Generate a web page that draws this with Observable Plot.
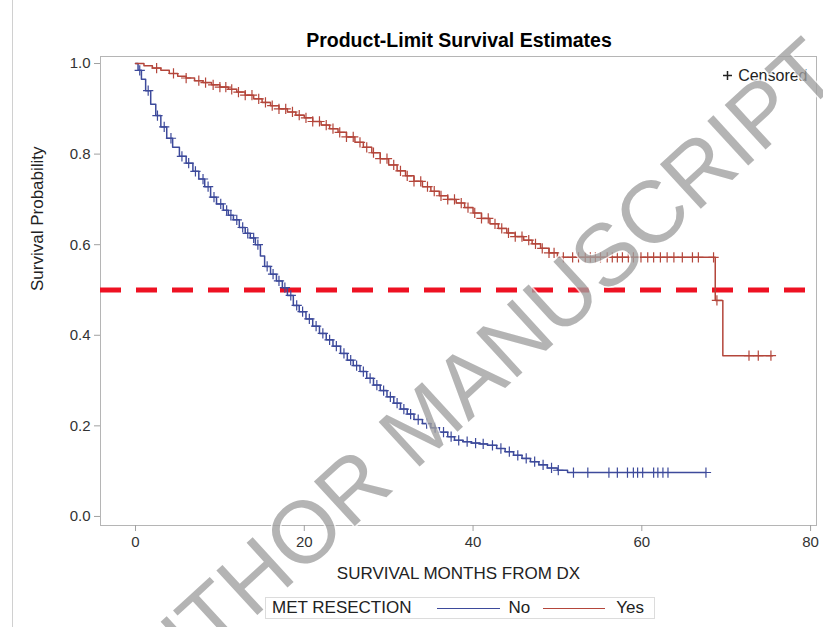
<!DOCTYPE html>
<html><head><meta charset="utf-8">
<script src="https://cdn.jsdelivr.net/npm/d3@7"></script>
<script src="https://cdn.jsdelivr.net/npm/@observablehq/plot@0.6"></script>
<style>
body{margin:0;background:#fff;font-family:"Liberation Sans",Arial,sans-serif;}
#page{position:relative;width:823px;height:627px;overflow:hidden;background:#fff;}
#title{height:48px;box-sizing:border-box;padding-top:30px;padding-left:95px;text-align:center;font-weight:bold;font-size:19.5px;line-height:20px;color:#000;}
#edge{position:absolute;left:12px;top:0;width:1px;height:627px;background:#d0d0d0;}
#legend{position:absolute;left:265px;top:597px;height:22px;box-sizing:border-box;border:1px solid #dcdcdc;display:flex;align-items:center;font-size:17px;color:#222;padding:0 10px 0 6px;}
#legend .sw{display:inline-block;height:0;border-top:1.5px solid;}
#wm{position:absolute;left:0;top:0;pointer-events:none;}
</style>
</head><body>
<div id="page">
<div id="edge"></div>
<div id="title"></div>
<div id="chart"></div>
<div id="legend"></div>
<svg id="wm" width="823" height="627"></svg>
</div>
<script>
// ---- data ----
const titleText = "Product-Limit Survival Estimates";
const xLabel = "SURVIVAL MONTHS FROM DX";
const yLabel = "Survival Probability";
const legendTitle = "MET RESECTION";
const groups = ["No", "Yes"];
const groupColors = ["#3d4a9b", "#b4463b"];
const xTicks = [0, 20, 40, 60, 80];
const yTicks = [0, 0.2, 0.4, 0.6, 0.8, 1.0];
const refLine = 0.5;
const watermark = "AUTHOR MANUSCRIPT";

// Group "No" (blue) Kaplan-Meier steps
const noTimes = [0,0.3,0.7,1.2,1.8,2.4,3.0,3.7,4.4,5.2,6.0,6.8,7.5,8.2,8.9,9.6,10.4,11.0,11.6,12.3,13.0,13.6,14.2,14.8,15.3,16.0,16.7,17.4,18.0,18.7,19.4,20.2,21.0,21.8,22.6,23.4,24.3,25.1,25.8,26.6,27.4,28.2,29.0,29.8,30.6,31.4,32.2,33.0,34.0,35.0,36.0,37.0,37.8,38.8,39.8,40.8,41.7,42.8,43.8,44.8,45.8,46.8,47.8,48.8,50.0,51.2,67.6];
const noSurv  = [1.000,0.985,0.965,0.940,0.910,0.885,0.860,0.835,0.815,0.795,0.780,0.762,0.745,0.728,0.705,0.690,0.676,0.665,0.655,0.638,0.625,0.615,0.600,0.575,0.552,0.535,0.520,0.505,0.488,0.466,0.452,0.436,0.420,0.404,0.390,0.376,0.360,0.345,0.333,0.320,0.305,0.290,0.278,0.264,0.250,0.237,0.226,0.214,0.205,0.196,0.186,0.176,0.168,0.165,0.162,0.160,0.157,0.150,0.143,0.135,0.128,0.121,0.114,0.107,0.102,0.097,0.097];
const noCensored = [0.5,1.5,2.6,3.4,4.2,5.5,6.3,7.1,8.0,8.6,9.3,10.1,10.8,11.3,12.0,12.7,13.3,14.0,14.5,15.6,16.3,17.0,17.7,18.4,19.1,19.8,20.6,21.4,22.2,23.0,23.8,24.7,25.5,26.2,27.0,27.8,28.6,29.4,30.2,31.0,31.8,32.6,33.5,34.5,35.5,36.5,37.4,38.3,39.3,40.3,41.2,42.3,43.3,44.3,45.3,46.3,47.3,48.3,49.3,50.1,51.9,53.6,56.1,57.1,58.3,59.0,59.5,60.1,61.4,61.9,62.5,63.1,67.6];

// Group "Yes" (red) Kaplan-Meier steps
const yesTimes = [0,1,2,3,4,5,6,7,8,9,10,11,12,13,14,15,16,17,18,19,20,21,22,23,24,25,26,27,28,29,30,31,32,33,34,35,36,37,38,39,40,41,42,43,44,45,46,47,48,49,50,68.7,69.6,75.5];
const yesSurv  = [1.000,0.995,0.990,0.985,0.978,0.972,0.968,0.962,0.958,0.953,0.948,0.943,0.937,0.930,0.922,0.914,0.907,0.900,0.893,0.886,0.880,0.872,0.864,0.856,0.848,0.838,0.826,0.815,0.803,0.790,0.776,0.763,0.752,0.740,0.728,0.718,0.708,0.700,0.692,0.682,0.670,0.658,0.646,0.636,0.626,0.618,0.610,0.602,0.592,0.582,0.572,0.477,0.355,0.355];
const yesCensored = [2.5,4.5,6.0,7.5,8.3,9.2,10.0,10.7,11.4,12.2,13.0,13.8,14.6,15.4,16.2,17.0,17.8,18.6,19.4,20.2,21.0,21.8,22.6,23.4,24.2,25.0,25.8,26.6,27.4,28.2,29.0,29.8,30.6,31.4,32.2,33.0,33.8,34.6,35.4,36.2,37.0,37.8,38.6,39.4,40.2,41.0,41.8,42.6,43.4,44.2,45.0,45.8,46.6,47.4,48.2,49.0,49.6,50.7,51.8,52.5,53.3,53.9,54.5,55.1,55.9,56.5,57.1,57.7,58.4,59.0,59.9,60.7,61.4,62.2,63.0,63.8,64.8,66.0,66.7,68.5,68.9,72.7,73.8,75.3];

// ---- build tables ----
function stepTable(times, surv, group){ return times.map((t,i)=>({t, s: surv[i], group})); }
function survAt(times, surv, t){ let s = surv[0]; for(let i=0;i<times.length;i++){ if(times[i] <= t) s = surv[i]; } return s; }
const curves = [...stepTable(noTimes, noSurv, "No"), ...stepTable(yesTimes, yesSurv, "Yes")];
const censors = [
  ...noCensored.map(t=>({t, s: survAt(noTimes, noSurv, t), group:"No"})),
  ...yesCensored.map(t=>({t, s: survAt(yesTimes, yesSurv, t), group:"Yes"}))
];

const font = "Liberation Sans, Arial, sans-serif";
const chart = Plot.plot({
  width: 823, height: 542,
  marginTop: 8, marginBottom: 65, marginLeft: 100, marginRight: 7,
  style: {fontFamily: font, background: "white", overflow: "visible"},
  x: {domain: [-4.15, 80.7]},
  y: {domain: [-0.02, 1.0155]},
  color: {domain: groups, range: groupColors},
  marks: [
    Plot.frame({stroke: "#b5b5b5"}),
    Plot.axisX({ticks: xTicks, tickSize: 6, tickPadding: 5, fontSize: 15, stroke: "#a0a0a0", fill: "#333", label: null}),
    Plot.axisY({ticks: yTicks, tickFormat: ".1f", tickSize: 6, tickPadding: 4, fontSize: 15, stroke: "#a0a0a0", fill: "#333", label: null}),
    Plot.text([xLabel], {frameAnchor: "bottom", dy: 53, fontSize: 17, fill: "#222"}),
    Plot.text([yLabel], {frameAnchor: "left", dx: -63, rotate: -90, fontSize: 17, fill: "#222"}),
    Plot.ruleY([refLine], {stroke: "#ee1122", strokeWidth: 5, strokeDasharray: "21,15"}),
    Plot.line(curves, {x: "t", y: "s", z: "group", stroke: "group", curve: "step-after", strokeWidth: 1.5}),
    Plot.dot(censors, {x: "t", y: "s", stroke: "group", symbol: "plus", r: 3.4, strokeWidth: 1.2}),
    Plot.dot([0], {frameAnchor: "top-right", dx: -89, dy: 19, symbol: "plus", r: 3, stroke: "#222", strokeWidth: 1.5}),
    Plot.text(["Censored"], {frameAnchor: "top-right", dx: -9, dy: 19, textAnchor: "end", lineAnchor: "middle", fontSize: 16, fill: "#222"})
  ]
});
document.getElementById("chart").append(chart);
document.getElementById("title").textContent = titleText;

// legend below
const lg = document.getElementById("legend");
const lt = document.createElement("span"); lt.textContent = legendTitle; lg.append(lt);
const swWidths = [63, 62], swGaps = [26, 13], labGaps = [8, 11];
groups.forEach((g,i)=>{
  const sw = document.createElement("span"); sw.className = "sw";
  sw.style.width = swWidths[i] + "px"; sw.style.marginLeft = swGaps[i] + "px"; sw.style.borderTopColor = groupColors[i];
  const lab = document.createElement("span"); lab.textContent = g; lab.style.marginLeft = labGaps[i] + "px";
  lg.append(sw, lab);
});

// watermark overlay
const wm = d3.select("#wm");
wm.append("text")
  .attr("x", 462).attr("y", 386)
  .attr("transform", "rotate(-42.5 462 386)")
  .attr("text-anchor", "middle").attr("dy", "0.35em")
  .attr("font-family", font).attr("font-size", 88)
  .attr("fill", "#a0a0a0").attr("stroke", "#fff").attr("stroke-width", 3)
  .attr("paint-order", "stroke").attr("opacity", 0.78)
  .text(watermark);
</script>
</body></html>
